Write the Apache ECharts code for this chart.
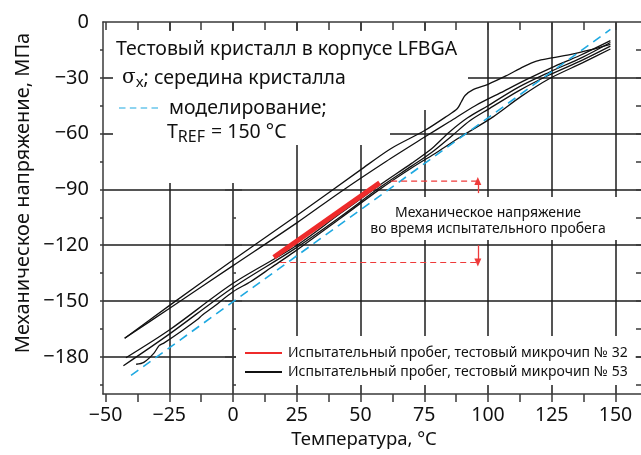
<!DOCTYPE html>
<html>
<head>
<meta charset="utf-8">
<script src="https://cdn.jsdelivr.net/npm/echarts@6/dist/echarts.min.js"></script>
<style>
  html, body { margin: 0; padding: 0; background: #fff; }
  #chart { width: 641px; height: 455px; }
</style>
</head>
<body>
<div id="chart"></div>
<script>
// Thermal stress in the die centre (σx) versus temperature, LFBGA test die.
const FONT = '"Noto Sans", "DejaVu Sans", sans-serif';

// Measured stress runs on test chip No. 53 (°C, MPa)
const runAT = [-42.5, -25, 0, 25, 50, 62, 75, 84, 88, 89.5, 91, 94, 100, 107, 114, 119, 125, 133, 140, 148];
const runAS = [-170, -152.5, -128, -104, -79.5, -68, -58.5, -50.5, -46.5, -43, -39.5, -36.5, -33.5, -29, -24, -21, -19.3, -17.3, -15, -12];
const runBT = [-42.5, -25, 0, 25, 42, 60, 75, 85, 95, 105, 115, 125, 136, 148];
const runBS = [-170, -154, -131, -108, -91.5, -75, -62, -53.5, -45, -38, -31, -24.5, -18, -10];
const runCT = [-42, -25, 0, 24, 42, 57.5, 70, 78, 85, 92, 100, 112, 124, 137, 148];
const runCS = [-180.5, -165.6, -140.5, -121, -103, -87.7, -76, -68, -59, -51.5, -45, -35, -27, -19, -11];
const runDT = [-43, -25, 0, 24, 42, 57.5, 70, 78, 86, 93, 100, 112, 124, 137, 148];
const runDS = [-184.8, -167.8, -142.7, -122.1, -104.8, -89, -77.5, -70, -61, -53, -47, -37, -28.5, -20.5, -13];
const runET = [-38, -35, -31, -29, -27, -20, -14, -12, -8, 0, 7, 15, 24, 42, 57.5, 70, 80, 89, 102, 113, 124, 137, 148];
const runES = [-184, -183, -178, -174, -172.5, -166, -160, -157.5, -153.5, -145, -139.5, -132, -123.6, -105.6, -90, -78.5, -70, -62, -51, -40, -30.5, -22, -14.5];

// Test run on chip No. 32
const run32T = [16, 57.5];
const run32S = [-126.5, -86.5];

// Simulation, T_REF = 150 °C
const simT = [-40, 148];
const simS = [-190, -4];

// Stress span of the test run (dashed guides with arrows)
const spanTopT = [62, 96];
const spanTopS = [-85.5, -85.5];
const spanBotT = [18.5, 96];
const spanBotS = [-129.3, -129.3];
const arrowUpS = [-92, -85.5];
const arrowDownS = [-120, -129.3];
const arrowT = 96;

// Axis labels
const xLabelValues = [-50, -25, 0, 25, 50, 75, 100, 125, 150];
const yLabelValues = [0, -30, -60, -90, -120, -150, -180];

const NAME32 = 'Испытательный пробег, тестовый микрочип № 32';
const NAME53 = 'Испытательный пробег, тестовый микрочип № 53';
const NAMESIM = 'моделирование;';

const zip = (t, s) => t.map((v, i) => [v, s[i]]);
const minus = v => (v < 0 ? '\u2212' + (-v) : String(v));
const steps = (from, to, step) => {
  const out = [];
  for (let v = from; v <= to + 1e-9; v += step) out.push(Math.round(v * 100) / 100);
  return out;
};

const X_MIN = -51, X_MAX = 160, Y_MIN = -200, Y_MAX = 0;
const xMinor = steps(-50, 150, 12.5);
const xMajor = steps(-25, 150, 25);
const yMinor = steps(-195, -15, 15);
const yMajor = steps(-180, -30, 30);

const AXIS_COLOR = '#3a3a3a';
const GRID_COLOR = '#1c1c1c';
const tickLine = { color: AXIS_COLOR, width: 1.5 };

function xAxisBase(extra) {
  return Object.assign({
    type: 'value', min: X_MIN, max: X_MAX,
    axisLine: { show: false }, axisTick: { show: false },
    axisLabel: { show: false }, splitLine: { show: false }
  }, extra);
}
function yAxisBase(extra) {
  return Object.assign({
    type: 'value', min: Y_MIN, max: Y_MAX,
    axisLine: { show: false }, axisTick: { show: false },
    axisLabel: { show: false }, splitLine: { show: false }
  }, extra);
}

const blackRuns = [[runAT, runAS], [runBT, runBS], [runCT, runCS], [runDT, runDS], [runET, runES]];

const series = blackRuns.map(([t, s]) => ({
  type: 'line', name: NAME53, data: zip(t, s), symbol: 'none', smooth: 0.3,
  lineStyle: { color: '#111', width: 1.3 }, itemStyle: { color: '#111' }, z: 3
}));

series.push({
  type: 'line', name: NAMESIM, data: zip(simT, simS), symbol: 'none',
  lineStyle: { color: '#1fa9e1', width: 1.6, type: [9, 6] }, itemStyle: { color: '#1fa9e1' }, z: 3
});

series.push({
  type: 'line', name: NAME32, data: zip(run32T, run32S), symbol: 'none',
  lineStyle: { color: '#ee2b2b', width: 5, cap: 'butt' }, itemStyle: { color: '#ee2b2b' }, z: 4
});

const guideStyle = { color: '#ee3b3b', width: 1.2, type: [6, 4] };
series.push({
  type: 'line', name: 'spanTop', data: zip(spanTopT, spanTopS), symbol: 'none',
  lineStyle: guideStyle, silent: true, z: 3
});
series.push({
  type: 'line', name: 'spanBot', data: zip(spanBotT, spanBotS), symbol: 'none',
  lineStyle: guideStyle, silent: true, z: 3,
  markLine: {
    silent: true, symbol: ['none', 'triangle'], symbolSize: [7, 8],
    lineStyle: { color: '#ee3b3b', width: 1.3, type: 'solid' }, label: { show: false },
    data: [
      [{ coord: [arrowT, arrowUpS[0]] }, { coord: [arrowT, arrowUpS[1]] }],
      [{ coord: [arrowT, arrowDownS[0]] }, { coord: [arrowT, arrowDownS[1]] }]
    ]
  }
});

const chart = echarts.init(document.getElementById('chart'), null, { renderer: 'canvas' });
chart.setOption({
  animation: false,
  backgroundColor: '#fff',
  textStyle: { fontFamily: FONT },
  grid: { left: 103, right: 0, top: 22, bottom: 61, containLabel: false },
  xAxis: [
    xAxisBase({
      position: 'bottom',
      axisLine: { show: true, onZero: false, lineStyle: tickLine },
      axisTick: { show: true, inside: false, length: 8, lineStyle: tickLine, customValues: xMinor },
      axisLabel: {
        show: true, margin: 11, fontSize: 19.5, color: '#111', fontFamily: FONT,
        customValues: xLabelValues, formatter: v => minus(v)
      }
    }),
    xAxisBase({
      position: 'top',
      axisLine: { show: true, onZero: false, lineStyle: tickLine },
      axisTick: { show: true, inside: true, length: 8, lineStyle: tickLine, customValues: xMinor }
    }),
    xAxisBase({
      position: 'bottom',
      axisTick: { show: false, customValues: xMajor },
      splitLine: { show: true, customValues: xMajor, lineStyle: { color: GRID_COLOR, width: 1.5 } }
    })
  ],
  yAxis: [
    yAxisBase({
      position: 'left',
      axisLine: { show: true, onZero: false, lineStyle: tickLine },
      axisTick: { show: true, inside: false, length: 3, lineStyle: tickLine, customValues: yMinor },
      axisLabel: {
        show: true, margin: 14, fontSize: 20, color: '#111', fontFamily: FONT,
        customValues: yLabelValues, formatter: v => minus(v)
      }
    }),
    yAxisBase({
      position: 'left',
      axisTick: { show: true, inside: false, length: 8, lineStyle: tickLine, customValues: yMajor }
    }),
    yAxisBase({
      position: 'left',
      axisTick: { show: true, inside: true, length: 3, lineStyle: tickLine, customValues: yMinor }
    }),
    yAxisBase({
      position: 'left',
      axisTick: { show: true, inside: true, length: 9, lineStyle: tickLine, customValues: yMajor }
    }),
    yAxisBase({
      position: 'right',
      axisTick: { show: true, inside: true, length: 5, lineStyle: tickLine, customValues: yMinor }
    }),
    yAxisBase({
      position: 'left',
      axisTick: { show: false, customValues: yMajor },
      splitLine: { show: true, customValues: yMajor, lineStyle: { color: GRID_COLOR, width: 1.5 } }
    })
  ],
  legend: [
    {
      data: [NAME32, NAME53],
      orient: 'vertical', left: 236, top: 336,
      icon: 'rect', itemWidth: 37, itemHeight: 2, itemGap: 3,
      backgroundColor: '#fff', padding: [9, 8, 5, 9],
      textStyle: { fontSize: 14, lineHeight: 16, color: '#111', fontFamily: FONT, padding: [0, 0, 0, 1] },
      selectedMode: false
    },
    {
      data: [NAMESIM],
      orient: 'horizontal', left: 119, top: 98,
      icon: 'path://M0,0h6v1h-6z M10,0h6v1h-6z M20,0h6v1h-6z M30,0h6v1h-6z',
      itemWidth: 39, itemHeight: 2, padding: 0,
      textStyle: { fontSize: 19.5, lineHeight: 20, color: '#111', fontFamily: FONT, padding: [0, 0, 0, 6] },
      selectedMode: false
    }
  ],
  graphic: [
    // white panels behind the captions; they hide the grid lines there
    { type: 'rect', z: 1, silent: true, shape: { x: 113, y: 31, width: 355, height: 79 }, style: { fill: '#fff' } },
    { type: 'rect', z: 1, silent: true, shape: { x: 113, y: 110, width: 277, height: 35 }, style: { fill: '#fff' } },
    { type: 'rect', z: 1, silent: true, shape: { x: 113, y: 145, width: 150, height: 38 }, style: { fill: '#fff' } },
    { type: 'rect', z: 1, silent: true, shape: { x: 366, y: 197, width: 258, height: 43 }, style: { fill: '#fff' } },
    {
      type: 'text', z: 10, x: 116, y: 49,
      style: { text: 'Тестовый кристалл в корпусе LFBGA', font: '19.5px ' + FONT, fill: '#111', verticalAlign: 'middle' }
    },
    {
      type: 'text', z: 10, left: 122, top: 68,
      style: {
        text: '{s|σ}{sub|x}{t|; середина кристалла}',
        rich: {
          s: { font: '20px "DejaVu Serif", serif', fill: '#111' },
          sub: { font: '15px ' + FONT, fill: '#111', padding: [9, 0, 0, 0] },
          t: { font: '19.5px ' + FONT, fill: '#111' }
        }
      }
    },
    {
      type: 'text', z: 10, left: 167, top: 122,
      style: {
        text: '{t|T}{sub|REF}{t| = 150 °C}',
        rich: {
          t: { font: '19.5px ' + FONT, fill: '#111' },
          sub: { font: '16px ' + FONT, fill: '#111', padding: [11, 1, 0, 0] }
        }
      }
    },
    {
      type: 'text', z: 10, x: 488, y: 213,
      style: { text: 'Механическое напряжение', font: '14px ' + FONT, fill: '#111', align: 'center', verticalAlign: 'middle' }
    },
    {
      type: 'text', z: 10, x: 488, y: 229,
      style: { text: 'во время испытательного пробега', font: '14px ' + FONT, fill: '#111', align: 'center', verticalAlign: 'middle' }
    },
    // axis titles
    {
      type: 'text', z: 10, x: 364, y: 440,
      style: { text: 'Температура, °C', font: '18.5px ' + FONT, fill: '#111', align: 'center', verticalAlign: 'middle' }
    },
    {
      type: 'text', z: 10, x: 23, y: 193, rotation: Math.PI / 2,
      style: { text: 'Механическое напряжение, МПа', font: '20px ' + FONT, fill: '#111', align: 'center', verticalAlign: 'middle' }
    }
  ],
  series: series.map(s => Object.assign({ xAxisIndex: 0, yAxisIndex: 0 }, s))
});
</script>
</body>
</html>
